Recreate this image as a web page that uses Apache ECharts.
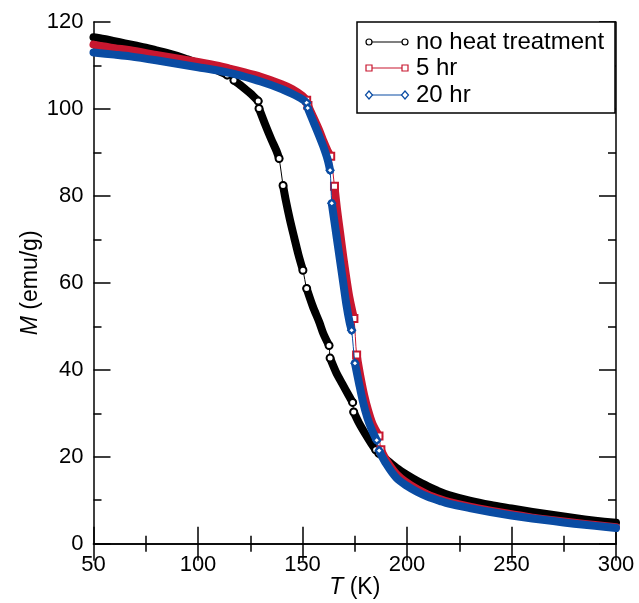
<!DOCTYPE html>
<html>
<head>
<meta charset="utf-8">
<script src="https://cdn.jsdelivr.net/npm/echarts@6/dist/echarts.min.js"></script>
<style>
html,body{margin:0;padding:0;background:#fff;}
#chart{width:639px;height:603px;}
</style>
</head>
<body>
<div id="chart"></div>
<script>
// ---- data: runs of dense measurements [T (K), M (emu/g)] ----
const seriesNames = ['no heat treatment', '5 hr', '20 hr'];
const xTicks = [50, 100, 150, 200, 250, 300];
const yTicks = [0, 20, 40, 60, 80, 100, 120];

const noHeatRuns = [
  [[50,116.5],[55,116.1],[60,115.6],[65,115.1],[70,114.6],[75,114.1],[80,113.5],[85,112.9],[90,112.2],[95,111.4],[100,110.6],[105,109.7],[110,108.7],[114,107.8]],
  [[117.2,106.6],[121,105.2],[125,103.6],[128.8,101.8]],
  [[129.2,100.1],[132,96.6],[135,93.1],[137.6,90.3],[138.8,88.6]],
  [[140.7,82.4],[142,79],[144,74.5],[146,70.5],[148,66.6],[150.2,62.9]],
  [[152,58.7],[155,54.5],[158,51],[160,48.3],[162.7,45.6]],
  [[163.2,42.7],[166,39.5],[169,36.8],[172,34.2],[174,32.5]],
  [[174.5,30.3],[177,27.8],[180,25.3],[183,23],[185,21.6]],
  [[186.5,20.8],[190,19.4],[195,17.4],[200,15.8],[205,14.4],[210,13.2],[215,12.1],[220,11.2],[230,9.9],[240,8.9],[250,8.1],[260,7.3],[270,6.6],[280,5.9],[290,5.3],[300,4.8]]
];

const fiveHrRuns = [
  [[50,114.8],[60,114.0],[67.5,113.5],[80,112.4],[90,111.6],[100,110.8],[110,109.9],[115,109.3],[120,108.7],[130,107.4],[140,105.7],[145,104.6],[150,103.0],[152,102.0]],
  [[152.6,100.8],[155,98.3],[158,95.1],[160,92.6],[162,90.4],[163.5,89.1]],
  [[165.3,82.2],[166.5,77],[168,71.5],[169.5,66],[171,61],[172.5,56.5],[174.6,51.8]],
  [[175.9,43.4],[177.5,39],[179.5,34.2],[181.5,30.5],[183.5,27.6],[186.6,24.8]],
  [[187.5,21.6],[190,19.3],[195,16.0],[200,14.0],[205,12.5],[210,11.3],[216,10.2],[220,9.6],[230,8.5],[240,7.6],[250,6.8],[260,6.0],[270,5.4],[280,4.8],[290,4.3],[300,3.8]]
];

const twentyHrRuns = [
  [[50,113.0],[60,112.5],[67.5,112.1],[80,111.2],[90,110.4],[100,109.6],[110,108.8],[115,108.3],[120,107.7],[130,106.3],[140,104.6],[145,103.5],[150,102.2],[152,101.4]],
  [[152.5,100.2],[155,97.3],[158,93.8],[160,91.3],[162,88.4],[163.2,85.9]],
  [[164,78.3],[165,75],[166.5,70],[168,65],[169.5,60],[171,55],[172.5,51],[173.5,49.1]],
  [[175.1,41.5],[177,37],[179,32.5],[181,29],[183,26.4],[185.5,23.8]],
  [[186.7,21.4],[190,18.4],[195,15.1],[200,13.3],[205,11.9],[210,10.8],[216,9.8],[220,9.2],[230,8.2],[240,7.3],[250,6.5],[260,5.8],[270,5.2],[280,4.6],[290,4.1],[300,3.6]]
];

const colors = ['#000000', '#c8172f', '#0a4ca3'];
const symbols = ['emptyCircle', 'emptyRect', 'emptyDiamond'];
const allRuns = [noHeatRuns, fiveHrRuns, twentyHrRuns];

function denseData(runs) {
  const out = [];
  runs.forEach((r, i) => {
    if (i > 0) out.push(['-', '-']);
    r.forEach(p => out.push(p));
  });
  return out;
}
// all points, plus a flag marking which points sit at the open ends of gaps
function thinData(runs) {
  const pts = [], marks = [];
  runs.forEach((r, i) => {
    r.forEach((p, j) => {
      pts.push(p);
      const isStart = j === 0 && i > 0;
      const isEnd = j === r.length - 1 && i < runs.length - 1;
      marks.push(isStart || isEnd);
    });
  });
  return {pts, marks};
}

const FONT = 'Liberation Sans, Arial, Helvetica, sans-serif';
const series = [];
allRuns.forEach((runs, k) => {
  series.push({
    name: seriesNames[k],
    type: 'line',
    data: denseData(runs),
    showSymbol: false,
    connectNulls: false,
    smooth: 0.3,
    z: 2 + k * 2,
    lineStyle: {color: colors[k], width: 8, cap: 'round', join: 'round'},
    itemStyle: {color: colors[k]},
    animation: false,
    silent: true
  });
  const td = thinData(runs);
  series.push({
    name: seriesNames[k] + ' markers',
    type: 'line',
    data: td.pts,
    symbol: symbols[k],
    symbolSize: (v, p) => (td.marks[p.dataIndex] ? 7 : 0),
    showSymbol: true,
    showAllSymbol: true,
    smooth: 0.3,
    z: 3 + k * 2,
    lineStyle: {color: colors[k], width: 1},
    itemStyle: {color: colors[k], borderWidth: 1},
    animation: false,
    silent: true
  });
});

const axisCommon = {
  axisLine: {show: true, lineStyle: {color: '#000', width: 1.5}},
  axisTick: {show: true, inside: true, length: 17, lineStyle: {color: '#000', width: 1.5}},
  minorTick: {show: true, splitNumber: 2, length: 8, lineStyle: {color: '#000', width: 1.5}},
  splitLine: {show: false}
};

const chart = echarts.init(document.getElementById('chart'), null, {renderer: 'canvas'});
const legendRows = [42, 68, 95];
const graphics = [{
  type: 'rect', z: 100,
  shape: {x: 357, y: 22, width: 258, height: 91},
  style: {fill: '#fff', stroke: '#000', lineWidth: 1.5}
}];
seriesNames.forEach((n, k) => {
  const y = legendRows[k];
  graphics.push({type: 'line', z: 101, shape: {x1: 369, y1: y, x2: 405, y2: y}, style: {stroke: colors[k], lineWidth: 1.2}});
  [369, 405].forEach(x => {
    let el;
    if (k === 0) el = {type: 'circle', shape: {cx: x, cy: y, r: 3}};
    else if (k === 1) el = {type: 'rect', shape: {x: x - 3, y: y - 3, width: 6, height: 6}};
    else el = {type: 'polygon', shape: {points: [[x, y - 4], [x + 3.5, y], [x, y + 4], [x - 3.5, y]]}};
    el.z = 102;
    el.style = {fill: '#fff', stroke: colors[k], lineWidth: 1.2};
    graphics.push(el);
  });
  graphics.push({type: 'text', z: 102, x: 416, y: y, style: {text: n, font: '24px ' + FONT, fill: '#000', verticalAlign: 'middle'}});
});

chart.setOption({
  backgroundColor: '#fff',
  animation: false,
  textStyle: {fontFamily: FONT},
  grid: {left: 93.5, right: 23, top: 22, bottom: 59.3, containLabel: false, outerBoundsMode: 'none'},
  xAxis: [
    Object.assign({}, axisCommon, {
      type: 'value', min: xTicks[0], max: xTicks[xTicks.length - 1], interval: xTicks[1] - xTicks[0],
      position: 'bottom',
      name: '{i|T} (K)', nameLocation: 'middle', nameGap: 32, nameMoveOverlap: false,
      nameTextStyle: {fontSize: 23, color: '#000', fontFamily: FONT, rich: {i: {fontStyle: 'italic', fontSize: 23, fontFamily: FONT}}},
      axisLabel: {fontSize: 22, color: '#000', margin: 10, fontFamily: FONT}
    }),
    Object.assign({}, axisCommon, {
      type: 'value', min: xTicks[0], max: xTicks[xTicks.length - 1], interval: xTicks[1] - xTicks[0],
      position: 'top', axisLabel: {show: false}
    })
  ],
  yAxis: [
    Object.assign({}, axisCommon, {
      type: 'value', min: yTicks[0], max: yTicks[yTicks.length - 1], interval: yTicks[1] - yTicks[0],
      position: 'left',
      name: '{i|M} (emu/g)', nameLocation: 'middle', nameGap: 51, nameMoveOverlap: false,
      nameTextStyle: {fontSize: 23, color: '#000', fontFamily: FONT, rich: {i: {fontStyle: 'italic', fontSize: 23, fontFamily: FONT}}},
      axisLabel: {fontSize: 22, color: '#000', margin: 10, fontFamily: FONT}
    }),
    Object.assign({}, axisCommon, {
      type: 'value', min: yTicks[0], max: yTicks[yTicks.length - 1], interval: yTicks[1] - yTicks[0],
      position: 'right', axisLabel: {show: false}
    })
  ],
  series: series,
  graphic: graphics
});
</script>
</body>
</html>
